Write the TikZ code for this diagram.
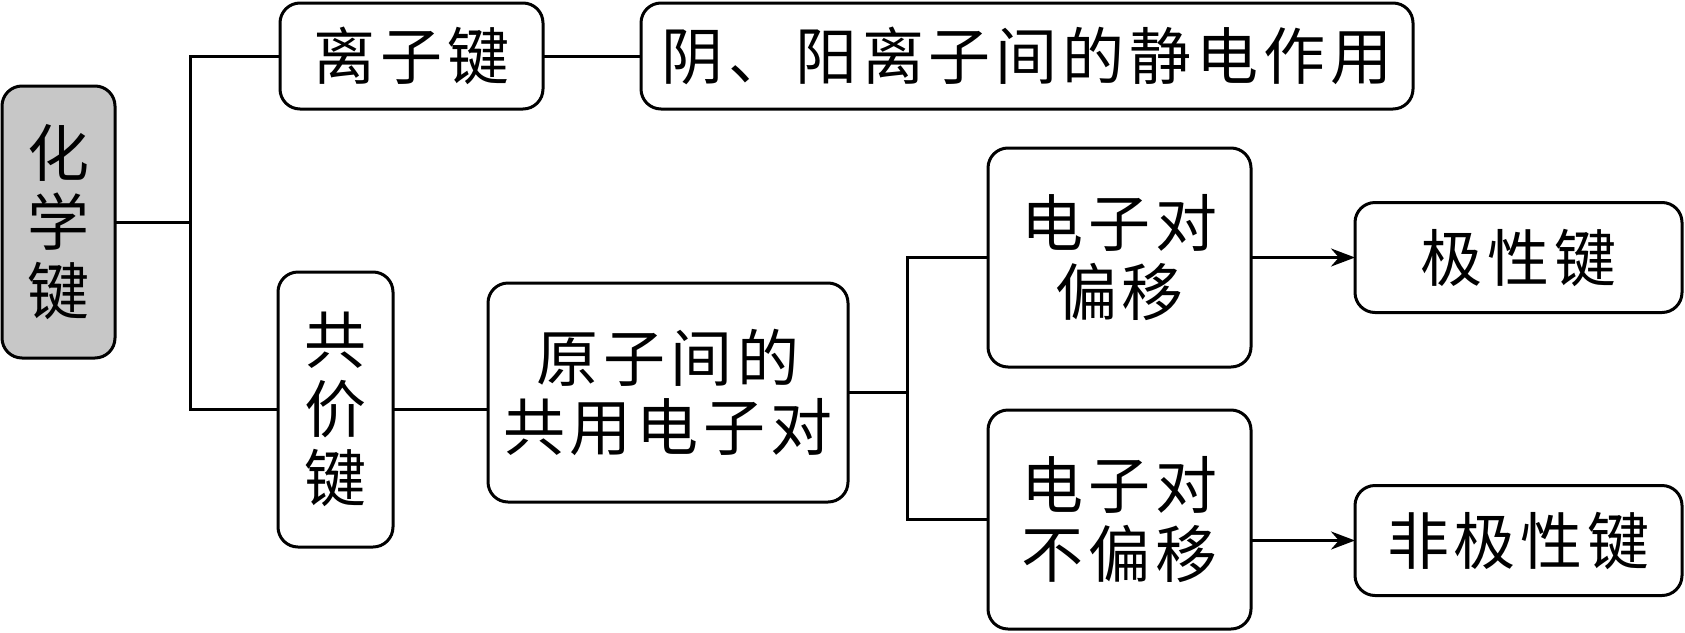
\documentclass[tikz,border=0pt]{standalone}
\usepackage{fontspec}
\newfontfamily\cjk[LetterSpace=8]{Noto Sans CJK SC}
\usetikzlibrary{positioning, arrows.meta}
\tikzstyle{bond} = [rectangle, rounded corners=20pt, draw=black, line width=3pt, inner sep=0pt, outer sep=0pt, align=center, font=\cjk\fontsize{62}{69}\selectfont]
\tikzstyle{root} = [bond, fill=black!22]
\tikzstyle{link} = [line width=3pt]
\tikzstyle{arrow} = [link, -{Stealth[length=24pt,width=18pt]}]

\begin{document}
\begin{tikzpicture}[x=1pt, y=-1pt]
    \useasboundingbox (0,0) rectangle (1685,632);
    \node (hx) [root, minimum width=113pt, minimum height=272pt] at (58.5,222) {化\\学\\键};
    \node (lz) [bond, minimum width=263pt, minimum height=106pt] at (411.5,56) {离子键};
    \node (jd) [bond, minimum width=772pt, minimum height=106pt, right=98pt of lz] {阴、阳离子间的静电作用};
    \node (gj) [bond, minimum width=115pt, minimum height=275pt] at (335.5,409.5) {共\\价\\键};
    \node (yz) [bond, minimum width=360pt, minimum height=219pt] at (668,392.5) {原子间的\\共用电子对};
    \node (py) [bond, minimum width=263pt, minimum height=219pt] at (1119.5,257.5) {电子对\\偏移};
    \node (bpy) [bond, minimum width=263pt, minimum height=219pt, below=43pt of py] {电子对\\不偏移};
    \node (jx) [bond, minimum width=327pt, minimum height=110pt, right=104pt of py] {极性键};
    \node (fjx) [bond, minimum width=327pt, minimum height=110pt, below=173pt of jx] {非极性键};

    \draw [link] (hx.east) -- ++(75,0) coordinate (j1);
    \draw [link] (lz.west) -| (j1) |- (gj.west);
    \draw [link] (lz) -- (jd);
    \draw [link] (gj.east) -- (gj.east -| yz.west);
    \draw [link] (yz.east) -- ++(59,0) coordinate (j2);
    \draw [link] (py.west) -| (j2) |- (bpy.west);
    \draw [arrow] (py.east) -- (py.east -| jx.west);
    \draw [arrow] (bpy.east |- fjx.west) -- (fjx.west);
\end{tikzpicture}
\end{document}
